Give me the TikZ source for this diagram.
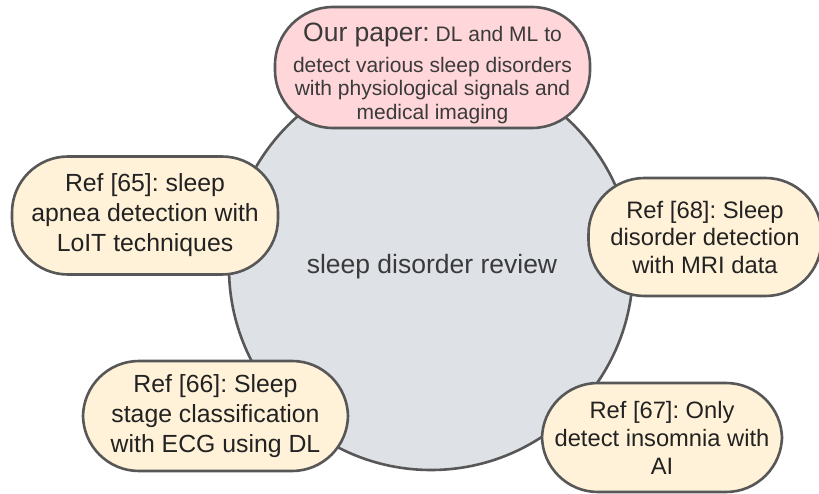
\documentclass[tikz,border=0pt]{standalone}
\usepackage{fontspec}
\setmainfont{Liberation Sans}
\frenchspacing
\definecolor{circfill}{HTML}{DEE1E6}
\definecolor{edge}{HTML}{575757}
\definecolor{cream}{HTML}{FFF2D8}
\definecolor{pinkfill}{HTML}{FFD6D9}
\definecolor{txtdark}{HTML}{222222}
\definecolor{txtgray}{HTML}{3A3A3A}
\tikzset{
  reviewcircle/.style={circle, draw=edge, fill=circfill, line width=2.6pt, minimum size=404pt, inner sep=0pt},
  refbox/.style={draw=edge, fill=cream, line width=2.6pt, rounded corners=56pt, inner sep=0pt, align=center, text=txtdark},
  paperbox/.style={draw=edge, fill=pinkfill, line width=2.6pt, rounded corners=58pt, inner sep=0pt},
  papertext/.style={inner sep=0pt, align=center, text=txtgray, font=\fontsize{21}{23.5}\selectfont},
}
\begin{document}
\begin{tikzpicture}[x=1pt,y=-1pt]
\useasboundingbox (0,0) rectangle (819,494);
\node[reviewcircle] (review) at (431,268) {};
\node[text=txtgray, font=\fontsize{26.5}{30}\selectfont] (reviewtext) at (432,266.5) {sleep disorder review};
\node[paperbox, minimum width=315pt, minimum height=121pt] (paper) at (432.5,67.5) {};
\node[papertext, anchor=north] (papertext) at (432.5,22.5)
  {{\fontsize{26.5}{26.5}\selectfont Our paper:} DL and ML to\\[7.5pt]detect various sleep disorders\\with physiological signals and\\medical imaging};
\node[refbox, minimum width=266pt, minimum height=118pt,
  font=\fontsize{24.8}{30}\selectfont] (r65) at (145,215.5)
  {Ref [65]: sleep\\apnea detection with\\LoIT techniques};
\node[refbox, minimum width=233pt, minimum height=118pt,
  font=\fontsize{23.8}{27.5}\selectfont] (r68) at (705,237)
  {Ref [68]: Sleep\\disorder detection\\with MRI data};
\node[refbox, minimum width=265pt, minimum height=110pt,
  font=\fontsize{24.8}{30}\selectfont] (r66) at (215.5,416)
  {Ref [66]: Sleep\\stage classification\\with ECG using DL};
\node[refbox, minimum width=240pt, minimum height=109pt,
  font=\fontsize{23.7}{28}\selectfont] (r67) at (662,437.5)
  {Ref [67]: Only\\detect insomnia with\\AI};
\end{tikzpicture}
\end{document}
